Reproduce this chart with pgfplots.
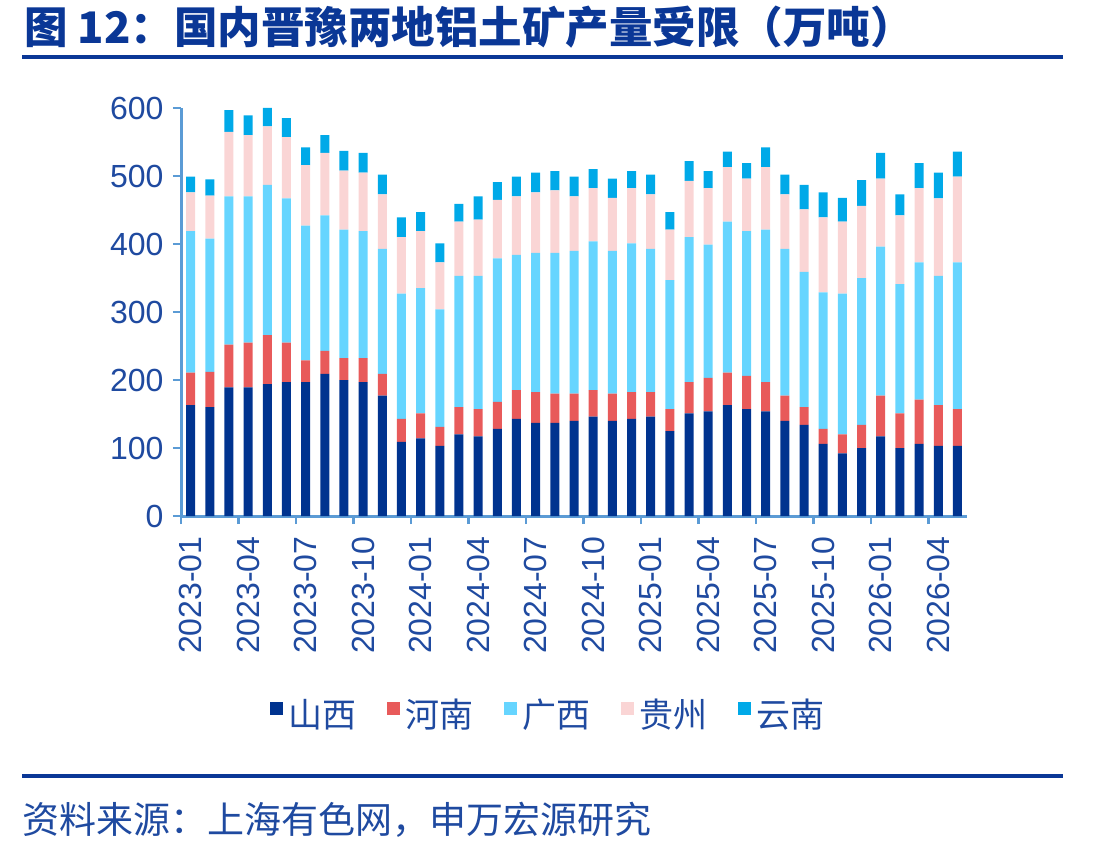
\documentclass[border=0pt]{standalone}
\usepackage{fontspec}
\setmainfont{Liberation Sans}
\newfontfamily\cjk{Noto Sans CJK SC}
\usepackage{pgfplots}
\usepackage{pgfplotstable}
\pgfplotsset{compat=1.18}
\definecolor{sx}{HTML}{00338F}
\definecolor{hn}{HTML}{E85A5A}
\definecolor{gx}{HTML}{66D5FF}
\definecolor{gz}{HTML}{FAD5D5}
\definecolor{yn}{HTML}{00A9E8}
\definecolor{axisblue}{HTML}{5B9BD5}
\definecolor{titleblue}{HTML}{0A3796}
\definecolor{labelblue}{HTML}{1F4AA0}
\pgfplotstableread{
i sx hn gx gz yn
0 163 48 208 57 23
1 160 52 196 63 24
2 189 63 218 95 32
3 189 66 215 90 29
4 194 72 221 86 27
5 197 58 212 90 28
6 197 32 198 89 26
7 209 34 199 92 26
8 200 32 189 87 29
9 197 35 187 86 29
10 177 32 184 80 29
11 109 34 184 83 29
12 114 37 184 84 28
13 103 28 173 69 28
14 120 40 193 80 26
15 117 40 196 83 34
16 128 40 211 86 26
17 143 42 199 86 29
18 137 45 205 89 29
19 137 43 207 92 28
20 140 40 210 80 29
21 146 39 219 78 28
22 140 40 210 78 28
23 143 39 219 81 25
24 146 36 211 80 29
25 125 32 190 74 26
26 151 46 213 83 29
27 154 49 196 83 25
28 163 48 222 80 23
29 157 49 213 77 23
30 154 43 224 92 29
31 140 37 216 80 29
32 134 26 199 92 36
33 106 22 201 110 37
34 92 28 207 106 35
35 100 34 216 106 38
36 117 60 219 100 38
37 100 51 190 101 31
38 106 65 202 109 37
39 103 60 190 114 38
40 103 54 216 126 37
}\data
\begin{document}
\begin{tikzpicture}[x=1pt,y=1pt]
\path[use as bounding box] (0,0) rectangle (1100,852);
\node[anchor=base west, inner sep=0, text=titleblue] at (24,808) {\fontsize{43.5}{50}\selectfont\cjk\bfseries 图 12：国内晋豫两地铝土矿产量受限（万吨）};
\draw[titleblue, line width=4.5] (22,795) -- (1063,795);
\draw[titleblue, line width=4.5] (22,76) -- (1063,76);
\node[anchor=base west, inner sep=0, text=labelblue] at (22,19) {\fontsize{37}{44}\selectfont\cjk 资料来源：上海有色网，申万宏源研究};
\begin{axis}[
  at={(181pt,336pt)}, anchor=south west,
  scale only axis, width=786pt, height=408pt,
  xmin=-0.5, xmax=40.5, ymin=0, ymax=600,
  axis x line*=bottom, axis y line*=left,
  axis line style={draw=axisblue, line width=3pt},
  tick align=outside, major tick length=8pt,
  ytick={0,100,...,600},
  ytick style={draw=axisblue, line width=2.5pt},
  /pgf/number format/assume math mode=true,
  yticklabel style={font=\fontsize{32}{38}\selectfont, text=labelblue, xshift=-6pt},
  xtick={0,3,...,39},
  xticklabels={2023-01,2023-04,2023-07,2023-10,2024-01,2024-04,2024-07,2024-10,2025-01,2025-04,2025-07,2025-10,2026-01,2026-04},
  xtick style={draw=none},
  xticklabel style={rotate=90, anchor=east, font=\fontsize{32}{38}\selectfont, text=labelblue, xshift=-9pt},
  extra x ticks={-0.5,2.5,...,38.5},
  extra x tick labels={},
  extra x tick style={xtick style={draw=axisblue, line width=2.5pt}},
  ybar stacked, bar width=9pt,
  legend style={at={(0.469,-0.485)}, anchor=center, draw=none, fill=none,
    legend columns=-1, font=\fontsize{34}{40}\selectfont\cjk, text=labelblue,
    /tikz/every even column/.append style={column sep=26pt},
    nodes={inner xsep=5pt}},
  legend image code/.code={\fill[#1] (0pt,-1pt) rectangle (13pt,12pt);},
]
\addplot[fill=sx, draw=none] table[x=i, y=sx] {\data};
\addplot[fill=hn, draw=none] table[x=i, y=hn] {\data};
\addplot[fill=gx, draw=none] table[x=i, y=gx] {\data};
\addplot[fill=gz, draw=none] table[x=i, y=gz] {\data};
\addplot[fill=yn, draw=none] table[x=i, y=yn] {\data};
\legend{山西,河南,广西,贵州,云南}
\end{axis}
\end{tikzpicture}
\end{document}
